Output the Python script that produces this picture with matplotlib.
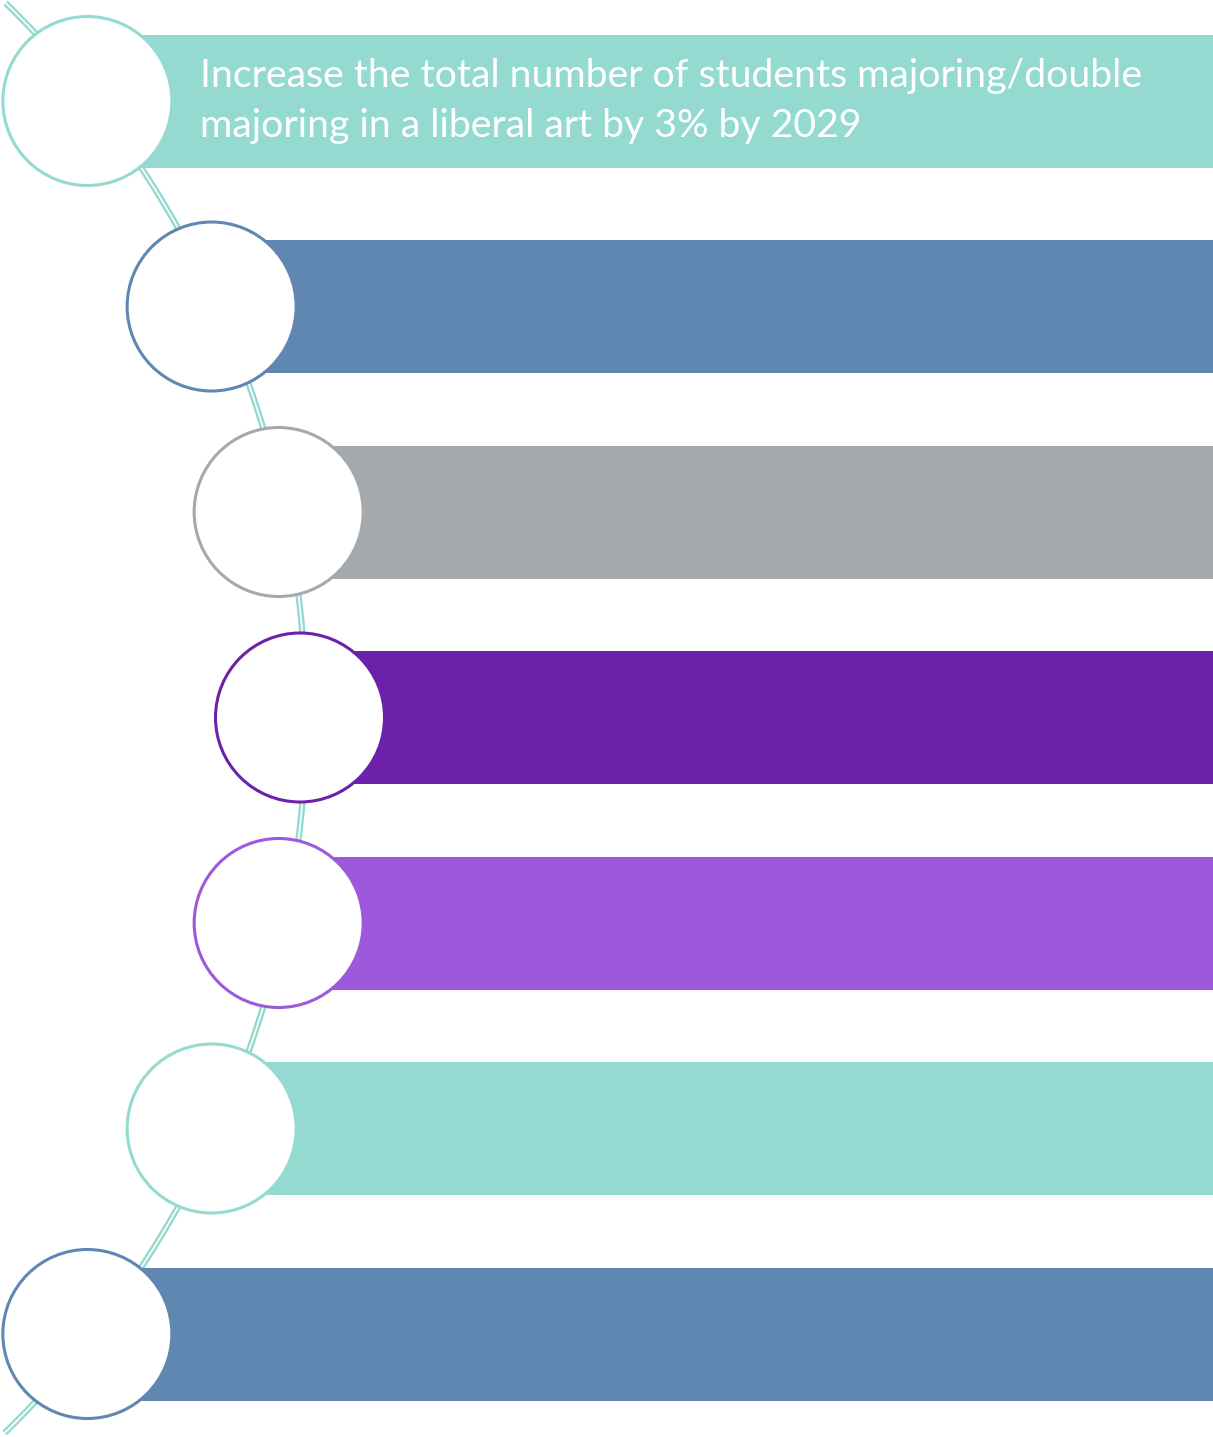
import matplotlib
matplotlib.use("Agg")
import matplotlib.pyplot as plt
import numpy as np
from matplotlib.patches import Circle, Rectangle

# ---- content ----
step_texts = [
    ["Increase the total number of students majoring/double",
     "majoring in a liberal art by 3% by 2029"],
    [], [], [], [], [], [],
]
step_colors = ["#95DAD0", "#5F87B2", "#A4A9AD", "#6C21AA", "#9C59DC", "#95DAD0", "#5F87B2"]
arc_color = "#95DAD0"

# ---- layout (pixels) ----
W, H = 1213, 1437
fig = plt.figure(figsize=(W / 100, H / 100), dpi=100)
ax = fig.add_axes([0, 0, 1, 1])
ax.set_xlim(0, W)
ax.set_ylim(H, 0)
ax.axis("off")

n = len(step_colors)
y0, dy = 101, 205.5
ys = y0 + dy * np.arange(n)
yc = ys.mean()
R = 1000.0
cx = 300 - R
xs = cx + np.sqrt(R**2 - (ys - yc) ** 2)
r = 84.5
bar_h = 133

# connecting arc (double line)
t = np.linspace(np.arcsin((3 - yc) / R), np.arcsin((1433 - yc) / R), 400)
ax.plot(cx + R * np.cos(t) + 6, yc + R * np.sin(t), color=arc_color, lw=4.6,
        solid_capstyle="butt", zorder=1)
ax.plot(cx + R * np.cos(t) + 6, yc + R * np.sin(t), color="white", lw=1.2,
        solid_capstyle="butt", zorder=1.1)

for i in range(n):
    ax.add_patch(Rectangle((xs[i], ys[i] - bar_h / 2), W - xs[i] + 5, bar_h,
                           facecolor=step_colors[i], edgecolor="none", zorder=2))
    ax.add_patch(Circle((xs[i], ys[i]), r, facecolor="white",
                        edgecolor=step_colors[i], lw=2.2, zorder=3))

# text
fig.canvas.draw()
renderer = fig.canvas.get_renderer()
target_w = 942
lines = step_texts[0]
txt = ax.text(200, 87, lines[0], color="white", fontsize=26, family="Lato",
              va="baseline", ha="left", zorder=4)
w = txt.get_window_extent(renderer).width
fs = 26 * target_w / w
txt.set_fontsize(fs)
ax.text(200, 137, lines[1], color="white", fontsize=fs, family="Lato",
        va="baseline", ha="left", zorder=4)

fig.savefig("out.png", dpi=100, facecolor="white")
